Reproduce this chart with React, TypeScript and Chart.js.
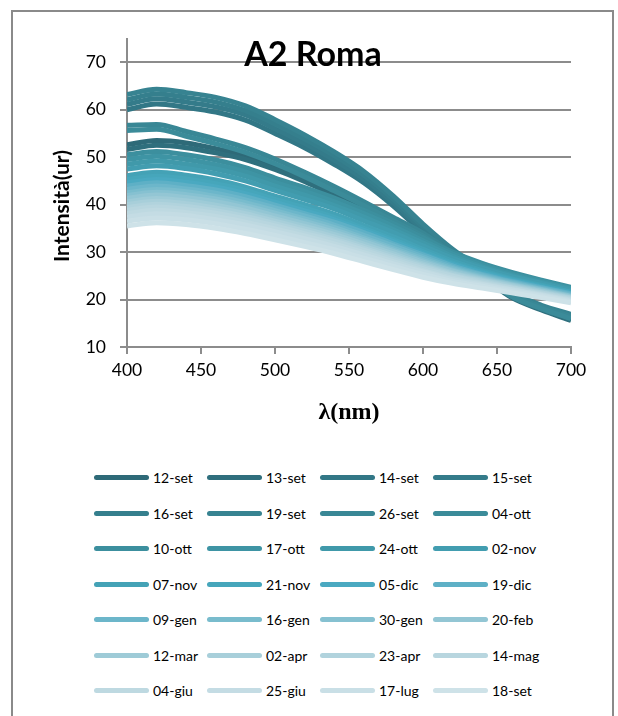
import React, { useEffect, useRef } from "react";
import { Chart, registerables } from "chart.js";

Chart.register(...registerables);

// Wavelength grid (nm)
const wavelengths = [400, 420, 440, 460, 480, 500, 520, 540, 560, 580, 600, 620, 640, 660, 680, 700];

// Measurement dates, one spectrum each
const seriesNames = [
  "12-set", "13-set", "14-set", "15-set", "16-set", "19-set", "26-set", "04-ott",
  "10-ott", "17-ott", "24-ott", "02-nov", "07-nov", "21-nov", "05-dic", "19-dic",
  "09-gen", "16-gen", "30-gen", "20-feb", "12-mar", "02-apr", "23-apr", "14-mag",
  "04-giu", "25-giu", "17-lug", "18-set",
];

const seriesColors = [
  "#2e6a78", "#2f6f7d", "#327786", "#347b8a", "#357f8d", "#378391", "#398795", "#3b8b99",
  "#3c8f9e", "#3e94a4", "#4099aa", "#429db0", "#44a2b6", "#46a6bb", "#4aa9c1", "#5eb0c6",
  "#6cb6ca", "#79bccd", "#86c1d1", "#93c6d4", "#9ecbd7", "#a8cfda", "#b1d3dd", "#b8d6df",
  "#bed9e1", "#c4dce4", "#c9dfe6", "#cee2e8",
];

// Intensity (ur) per date
const i12set = [52.6, 53.5, 53.0, 51.8, 50.3, 48.2, 45.6, 42.6, 39.5, 36.2, 32.8, 28.9, 25.0, 20.6, 18.0, 15.8];
const i13set = [51.6, 52.5, 52.0, 50.9, 49.5, 47.4, 44.9, 42.0, 39.0, 35.8, 32.5, 28.6, 24.8, 20.4, 17.8, 15.6];
const i14set = [60.0, 61.2, 60.5, 59.5, 57.8, 55.0, 52.0, 48.5, 44.6, 39.7, 34.1, 29.1, 25.1, 20.7, 18.0, 16.1];
const i15set = [61.1, 62.3, 61.6, 60.6, 58.9, 56.0, 52.9, 49.4, 45.4, 40.4, 34.7, 29.6, 25.5, 21.0, 18.2, 16.3];
const i16set = [62.1, 63.3, 62.6, 61.6, 59.8, 57.0, 53.8, 50.3, 46.2, 41.1, 35.3, 30.1, 25.9, 21.3, 18.5, 16.6];
const i19set = [63.2, 64.3, 63.6, 62.6, 60.8, 57.9, 54.7, 51.1, 47.0, 41.8, 35.9, 30.6, 26.3, 21.6, 18.8, 16.9];
const i26set = [56.7, 56.9, 55.4, 53.8, 52.0, 49.6, 46.8, 43.8, 40.6, 37.3, 34.0, 29.8, 25.6, 21.0, 18.5, 16.4];
const i04ott = [55.6, 55.9, 54.4, 52.8, 51.0, 48.6, 45.9, 42.9, 39.8, 36.6, 33.4, 29.3, 25.2, 20.6, 18.1, 16.0];
const i10ott = [50.5, 51.2, 50.5, 49.4, 47.8, 45.6, 43.6, 41.4, 38.8, 36.0, 33.0, 30.0, 27.6, 25.7, 24.1, 22.6];
const i17ott = [49.5, 50.2, 49.5, 48.4, 46.9, 44.7, 42.8, 40.6, 38.1, 35.4, 32.4, 29.6, 27.3, 25.4, 23.9, 22.4];
const i24ott = [48.5, 49.2, 48.5, 47.5, 46.0, 43.9, 42.0, 39.8, 37.4, 34.7, 31.9, 29.1, 26.9, 25.1, 23.6, 22.2];
const i02nov = [47.5, 48.2, 47.6, 46.5, 45.0, 43.0, 41.1, 39.1, 36.6, 34.1, 31.3, 28.7, 26.6, 24.8, 23.4, 21.9];
const i07nov = [46.1, 46.8, 46.2, 45.2, 43.7, 41.8, 40.0, 38.0, 35.6, 33.2, 30.6, 28.1, 26.1, 24.4, 23.0, 21.6];
const i21nov = [45.3, 46.0, 45.4, 44.4, 43.0, 41.1, 39.3, 37.3, 35.0, 32.6, 30.1, 27.7, 25.8, 24.2, 22.8, 21.5];
const i05dic = [44.6, 45.3, 44.7, 43.7, 42.3, 40.5, 38.7, 36.8, 34.6, 32.2, 29.7, 27.4, 25.6, 24.0, 22.6, 21.3];
const i19dic = [43.9, 44.6, 44.0, 43.1, 41.7, 39.9, 38.1, 36.3, 34.1, 31.7, 29.4, 27.1, 25.3, 23.8, 22.5, 21.2];
const i09gen = [43.2, 43.9, 43.3, 42.4, 41.0, 39.3, 37.6, 35.7, 33.5, 31.3, 29.0, 26.8, 25.1, 23.6, 22.3, 21.0];
const i16gen = [42.5, 43.2, 42.7, 41.7, 40.4, 38.7, 37.0, 35.2, 33.0, 30.8, 28.6, 26.5, 24.8, 23.4, 22.1, 20.8];
const i30gen = [41.9, 42.6, 42.1, 41.2, 39.8, 38.2, 36.5, 34.7, 32.6, 30.4, 28.2, 26.2, 24.6, 23.2, 22.0, 20.7];
const i20feb = [41.3, 42.0, 41.5, 40.6, 39.3, 37.6, 36.0, 34.2, 32.2, 30.1, 27.9, 26.0, 24.4, 23.1, 21.8, 20.6];
const i12mar = [40.6, 41.3, 40.8, 39.9, 38.6, 37.0, 35.4, 33.7, 31.7, 29.6, 27.5, 25.6, 24.2, 22.9, 21.7, 20.4];
const i02apr = [40.0, 40.7, 40.2, 39.3, 38.1, 36.5, 34.9, 33.2, 31.2, 29.2, 27.2, 25.4, 24.0, 22.7, 21.5, 20.3];
const i23apr = [39.4, 40.1, 39.6, 38.7, 37.5, 36.0, 34.4, 32.7, 30.8, 28.8, 26.9, 25.1, 23.8, 22.5, 21.4, 20.2];
const i14mag = [38.8, 39.5, 39.0, 38.2, 37.0, 35.5, 33.9, 32.3, 30.4, 28.4, 26.5, 24.9, 23.5, 22.4, 21.2, 20.0];
const i04giu = [38.1, 38.8, 38.3, 37.5, 36.3, 34.9, 33.4, 31.7, 29.9, 28.0, 26.1, 24.5, 23.3, 22.1, 21.0, 19.9];
const i25giu = [37.4, 38.1, 37.7, 36.8, 35.7, 34.3, 32.8, 31.2, 29.4, 27.5, 25.8, 24.2, 23.1, 22.0, 20.9, 19.7];
const i17lug = [36.5, 37.2, 36.8, 36.0, 34.8, 33.5, 32.0, 30.5, 28.7, 27.0, 25.3, 23.8, 22.8, 21.7, 20.7, 19.5];
const i18set = [35.5, 36.2, 35.8, 35.0, 33.9, 32.6, 31.2, 29.7, 28.0, 26.3, 24.7, 23.4, 22.4, 21.4, 20.4, 19.3];

const seriesValues = [
  i12set, i13set, i14set, i15set, i16set, i19set, i26set, i04ott,
  i10ott, i17ott, i24ott, i02nov, i07nov, i21nov, i05dic, i19dic,
  i09gen, i16gen, i30gen, i20feb, i12mar, i02apr, i23apr, i14mag,
  i04giu, i25giu, i17lug, i18set,
];

// Axis ticks
const yTicks = [10, 20, 30, 40, 50, 60, 70];
const xTicks = [400, 450, 500, 550, 600, 650, 700];

const chartTitle = "A2 Roma";
const yTitle = "Intensità(ur)";
const xTitle = "λ(nm)";

const GRID = "#8c8c8c";
const CANVAS_W = 598;
const CANVAS_H = 440;

// Title over the plot and rotated y-axis title
const overlayText = {
  id: "overlayText",
  afterDraw(chart: any) {
    const { ctx } = chart;
    ctx.save();
    ctx.fillStyle = "#000";
    ctx.textAlign = "center";
    ctx.textBaseline = "middle";
    ctx.font = "bold 34px Lato";
    ctx.fillText(chartTitle, chart.width / 2, 41);
    ctx.translate(48, 192);
    ctx.rotate(-Math.PI / 2);
    ctx.font = "bold 21px Lato";
    ctx.fillText(yTitle, 0, 0);
    ctx.restore();
  },
};

export default function App() {
  const canvasRef = useRef<HTMLCanvasElement>(null);

  useEffect(() => {
    const datasets = seriesValues.map((vals, i) => ({
      label: seriesNames[i],
      data: wavelengths.map((w, j) => ({ x: w, y: vals[j] })),
      borderColor: seriesColors[i],
      backgroundColor: seriesColors[i],
      borderWidth: 5,
      pointRadius: 0,
      cubicInterpolationMode: "monotone" as const,
      fill: false,
      // later dates are painted over earlier ones
      order: seriesValues.length - i,
    }));

    const chart = new Chart(canvasRef.current!, {
      type: "line",
      data: { datasets },
      options: {
        animation: false,
        responsive: false,
        devicePixelRatio: 1,
        layout: { padding: { top: 24, right: 41, left: 0, bottom: 0 } },
        plugins: {
          legend: { display: false },
          title: { display: false },
          tooltip: { enabled: false },
        },
        scales: {
          x: {
            type: "linear",
            min: 400,
            max: 700,
            afterBuildTicks: (scale: any) => {
              scale.ticks = xTicks.map((v) => ({ value: v }));
            },
            afterFit: (scale: any) => {
              scale.height = 107;
            },
            ticks: {
              color: "#000",
              font: { family: "Lato", size: 17.5 },
              padding: 6,
              maxRotation: 0,
            },
            grid: {
              drawOnChartArea: false,
              drawTicks: true,
              tickLength: 7,
              color: GRID,
              lineWidth: 2,
            },
            border: { display: true, color: GRID, width: 2 },
            title: {
              display: true,
              text: xTitle,
              color: "#000",
              font: { family: "Liberation Serif", weight: "bold", size: 24 },
              padding: { top: 0, bottom: 27 },
            },
          },
          y: {
            type: "linear",
            min: 10,
            max: 75,
            afterBuildTicks: (scale: any) => {
              scale.ticks = yTicks.map((v) => ({ value: v }));
            },
            afterFit: (scale: any) => {
              scale.width = 113;
            },
            ticks: {
              color: "#000",
              font: { family: "Lato", size: 17.5 },
              padding: 14,
            },
            grid: {
              drawOnChartArea: true,
              drawTicks: true,
              tickLength: 7,
              color: GRID,
              lineWidth: 2,
            },
            border: { display: true, color: GRID, width: 2 },
          },
        },
      },
      plugins: [overlayText],
    });
    return () => chart.destroy();
  }, []);

  return (
    <>
      <div
        style={{
          position: "absolute",
          left: 11,
          top: 10,
          width: 599,
          height: 704,
          border: "2px solid #8a8a8a",
          borderBottom: "none",
          boxSizing: "content-box",
        }}
      />
      <canvas
        ref={canvasRef}
        width={CANVAS_W}
        height={CANVAS_H}
        style={{ position: "absolute", left: 14, top: 14, width: CANVAS_W, height: CANVAS_H }}
      />
      <div
        style={{
          position: "absolute",
          left: 94,
          top: 460,
          display: "grid",
          gridTemplateColumns: "repeat(4, 113px)",
          gridAutoRows: "35.5px",
          fontFamily: "Lato",
          fontSize: 14,
          color: "#000",
        }}
      >
        {seriesNames.map((name, i) => (
          <div key={name} style={{ display: "flex", alignItems: "center" }}>
            <span
              style={{
                display: "inline-block",
                width: 55,
                height: 5,
                borderRadius: 3,
                background: seriesColors[i],
              }}
            />
            <span style={{ marginLeft: 4, whiteSpace: "nowrap" }}>{name}</span>
          </div>
        ))}
      </div>
    </>
  );
}
